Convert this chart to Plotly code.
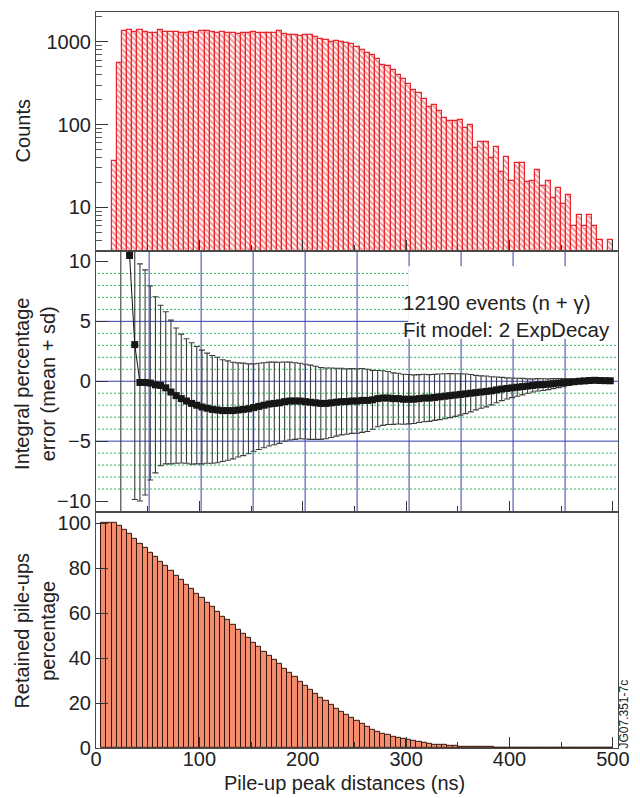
import plotly.graph_objects as go

# ---------------- data ----------------
# Pile-up peak distance histogram (5 ns bins, first bin starts at 15 ns)
COUNT_EDGE0 = 15.0
BIN_NS = 5.0
counts = [36, 559, 1345, 1372, 1320, 1396, 1320, 1283, 1283, 1372,
          1320, 1309, 1297, 1283, 1283, 1320, 1273, 1334, 1334, 1297,
          1262, 1297, 1262, 1283, 1248, 1273, 1283, 1309, 1273, 1283,
          1255, 1262, 1345, 1245, 1220, 1200, 1180, 1190, 1200, 1140,
          1070, 1050, 980, 1010, 990, 960, 930, 870, 783, 730,
          685, 610, 530, 510, 452, 400, 356, 305, 262, 241,
          202, 162, 174, 144, 119, 111, 111, 113, 90, 98,
          52, 62, 62, 39, 53, 27, 41, 21, 34, 34,
          20, 21, 28, 18, 21, 13, 17, 11, 14, 6,
          8, 6, 8, 6, 4, None, 4]
count_x = [COUNT_EDGE0 + BIN_NS * (k + 0.5) for k in range(len(counts))]

# Integral percentage error: mean and standard deviation per distance
err_x = [24.0] + [32.5 + 5 * i for i in range(94)]
err_mean = [18.0, 10.5, 3.06,
            -0.1, -0.1, -0.15, -0.3, -0.35, -0.55, -0.9, -1.2, -1.45, -1.65,
            -1.85, -2.0, -2.15, -2.25, -2.35, -2.4, -2.45, -2.45, -2.45, -2.4,
            -2.35, -2.3, -2.2, -2.1, -2.0, -1.9, -1.85, -1.8, -1.7, -1.65,
            -1.65, -1.65, -1.7, -1.75, -1.8, -1.85, -1.85, -1.8, -1.75, -1.7,
            -1.7, -1.65, -1.65, -1.6, -1.6, -1.55, -1.45, -1.4, -1.4, -1.45,
            -1.45, -1.5, -1.5, -1.5, -1.45, -1.4, -1.4, -1.35, -1.3, -1.25,
            -1.2, -1.15, -1.1, -1.05, -1.0, -0.95, -0.9, -0.85, -0.8, -0.72,
            -0.65, -0.6, -0.55, -0.5, -0.45, -0.4, -0.35, -0.3, -0.28, -0.25,
            -0.2, -0.15, -0.12, -0.08, -0.04, 0.0, 0.03, 0.06, 0.08, 0.06,
            0.05, 0.04]
err_sd = [40.0, 0.0, 12.93,
          9.9, 9.4, 8.1, 7.35, 6.7, 6.35, 6.0, 5.65, 5.38, 5.2,
          5.07, 4.9, 4.75, 4.6, 4.5, 4.4, 4.25, 4.15, 4.03, 3.93,
          3.86, 3.75, 3.65, 3.6, 3.55, 3.5, 3.45, 3.39, 3.31, 3.25,
          3.2, 3.15, 3.12, 3.1, 3.05, 3.0, 2.95, 2.9, 2.83, 2.78,
          2.73, 2.7, 2.69, 2.67, 2.6, 2.46, 2.35, 2.28, 2.21, 2.15,
          2.12, 2.09, 2.06, 2.03, 2.0, 1.98, 1.95, 1.92, 1.9, 1.88,
          1.84, 1.78, 1.73, 1.65, 1.56, 1.44, 1.35, 1.29, 1.17, 1.08,
          0.97, 0.88, 0.82, 0.75, 0.69, 0.6, 0.55, 0.52, 0.49, 0.45,
          0.42, 0.38, 0.34, 0.28, 0.2, 0.15, 0.12, 0.1, 0.08, 0.06,
          0.05, 0.04]

# Retained pile-ups percentage (5 ns bins starting at 5 ns)
RET_EDGE0 = 5.0
retained = [100, 100, 100, 98.9, 97.0, 95.1, 92.9, 90.9, 89.1, 86.9,
            85.0, 82.9, 80.8, 78.7, 76.5, 74.6, 72.7, 70.6, 68.5, 66.6,
            64.5, 62.6, 60.5, 58.5, 56.8, 54.7, 52.7, 50.8, 48.9, 46.8,
            44.9, 42.9, 41.2, 39.1, 37.3, 35.4, 33.4, 31.5, 29.6, 27.8,
            26.0, 24.2, 22.4, 20.8, 19.0, 17.5, 16.1, 14.6, 13.4, 12.2,
            10.8, 9.4, 8.2, 7.1, 6.4, 5.7, 4.9, 4.5, 4.0, 3.6,
            3.1, 2.8, 2.4, 2.0, 1.6, 1.5, 1.2, 1.07, 0.9, 0.75,
            0.6, 0.5, 0.45, 0.42, 0.4, 0.35, 0.3, 0.3, 0.28, 0.25,
            0.22, 0.2, 0.18, 0.15, 0.13, 0.12, 0.1, 0.1, 0.08, 0.07,
            0.06, 0.05, 0.05, 0.04, 0.04, 0.03, 0.03, 0.02, 0.02]
ret_x = [RET_EDGE0 + BIN_NS * (k + 0.5) for k in range(len(retained))]

count_ticks = [10, 100, 1000]
count_minor = [m * 10 ** e for e in range(0, 4) for m in range(2, 10)]
err_ticks = [-10, -5, 0, 5, 10]
err_ticktext = ["\u221210", "\u22125", "0", "5", "10"]
err_major_grid = [-5, 0, 5]
err_minor_grid = [v for v in range(-9, 10) if v % 5 != 0]
# the error panel's vertical grid runs on a slightly stretched 50 ns step
VGRID_START, VGRID_STEP, VGRID_N = 51.4, 50.3, 9

# ---------------- style ----------------
FONT = "Liberation Sans, Arial, Helvetica, sans-serif"
INK = "#222222"
FRAME = "#4a4a4a"
RED = "#e8262c"
SALMON = "#f38d6e"
BLUE = "#3040b0"
GREEN = "#22b857"
X_RANGE = [0, 505]
ERR_RANGE = [-10.9, 10.9]
D_TOP = [0.6757, 1.0]
D_MID = [0.3209, 0.6757]
D_BOT = [0.0, 0.3209]

fig = go.Figure()

# counts histogram
fig.add_trace(go.Bar(
    x=count_x, y=counts, width=BIN_NS, xaxis="x", yaxis="y",
    marker=dict(color="white", line=dict(color=RED, width=1.2),
                pattern=dict(shape="\\", fgcolor=RED, bgcolor="white",
                             size=4, solidity=0.5)),
    showlegend=False))

# integral percentage error (mean +/- sd)
fig.add_trace(go.Scatter(
    x=err_x, y=err_mean, xaxis="x2", yaxis="y2", mode="lines+markers",
    line=dict(color="#111111", width=1),
    marker=dict(symbol="square", size=7, color="#161616"),
    error_y=dict(type="data", array=err_sd, symmetric=True,
                 color="#3c3c3c", thickness=1.1, width=3),
    cliponaxis=True, showlegend=False))

# retained pile-ups percentage
fig.add_trace(go.Bar(
    x=ret_x, y=retained, width=BIN_NS, xaxis="x3", yaxis="y3",
    marker=dict(color=SALMON, line=dict(color="#34170f", width=1)),
    showlegend=False))

tickfont = dict(family=FONT, size=20, color=INK)


def frame_x(anchor, labels=False):
    return dict(range=X_RANGE, anchor=anchor, domain=[0, 1],
                dtick=100, tick0=0, ticks="inside", ticklen=11, tickwidth=1,
                tickcolor="#333333",
                minor=dict(dtick=50, ticks="inside", ticklen=6,
                           tickcolor="#333333", showgrid=False),
                showticklabels=labels, tickfont=tickfont,
                ticklabelstandoff=-7 if labels else 0,
                showgrid=False, zeroline=False,
                showline=True, mirror=True, linecolor=FRAME, linewidth=1.2)


fig.update_layout(
    width=640, height=798, autosize=False,
    margin=dict(l=96, r=14, t=11, b=50),
    paper_bgcolor="white", plot_bgcolor="white",
    font=dict(family=FONT, size=20, color=INK),
    showlegend=False, bargap=0,
    xaxis=frame_x("y"),
    yaxis=dict(type="log", range=[0.478, 3.358], domain=D_TOP, anchor="x",
               tickmode="array", tickvals=count_ticks,
               ticktext=[str(v) for v in count_ticks],
               ticks="inside", ticklen=12, tickcolor="#333333",
               minor=dict(tickmode="array", tickvals=count_minor,
                          ticks="inside", ticklen=6, tickcolor="#555555",
                          showgrid=False),
               tickfont=tickfont, showgrid=False, zeroline=False,
               showline=True, mirror=True, linecolor=FRAME, linewidth=1.2),
    xaxis2=frame_x("y2"),
    yaxis2=dict(range=ERR_RANGE, anchor="x2", domain=D_MID,
                tickmode="array", tickvals=err_ticks, ticktext=err_ticktext,
                ticks="inside", ticklen=12, tickcolor="#333333",
                tickfont=tickfont, showgrid=False, zeroline=False,
                showline=True, mirror=True, linecolor=FRAME, linewidth=1.2),
    xaxis3=frame_x("y3", labels=True),
    yaxis3=dict(range=[0, 105], anchor="x3", domain=D_BOT,
                dtick=20, tick0=0, ticks="inside", ticklen=12,
                tickcolor="#333333", tickfont=tickfont,
                showgrid=False, zeroline=False,
                showline=True, mirror=True, linecolor=FRAME, linewidth=1.2),
)

# grid of the error panel: dotted unit lines, a white box behind the
# fit description, then the solid main grid on top of both
for v in err_minor_grid:
    fig.add_shape(type="line", xref="x2 domain", yref="y2",
                  x0=0.004, x1=1, y0=v, y1=v, layer="below",
                  line=dict(color=GREEN, width=1, dash="2px,2px"))
fig.add_shape(type="rect", xref="x2", yref="y2", x0=302, x1=505,
              y0=3.55, y1=9.6, layer="below",
              fillcolor="white", line=dict(width=0))
for v in err_major_grid:
    fig.add_shape(type="line", xref="x2 domain", yref="y2",
                  x0=0, x1=1, y0=v, y1=v, layer="below",
                  line=dict(color=BLUE, width=1))
for i in range(VGRID_N):
    xg = VGRID_START + VGRID_STEP * i
    fig.add_shape(type="line", xref="x2", yref="y2 domain",
                  x0=xg, x1=xg, y0=0, y1=1, layer="below",
                  line=dict(color=BLUE, width=1))

ann_font = dict(family=FONT, size=20, color=INK)
annotations = [
    dict(text="Counts", x=-0.1396, y=0.8379, textangle=-90),
    dict(text="Integral percentage<br>error (mean + sd)", x=-0.116, y=0.4953,
         textangle=-90),
    dict(text="Retained pile-ups<br>percentage", x=-0.116, y=0.1601,
         textangle=-90),
    dict(text="Pile-up peak distances (ns)", x=0.4755, y=-0.0475),
]
for a in annotations:
    fig.add_annotation(xref="paper", yref="paper", showarrow=False,
                       font=ann_font, xanchor="center", yanchor="middle", **a)

# fit description inside the error panel
for text, yp in (("12190 events (n + \u03b3)", 0.6052),
                 ("Fit model: 2 ExpDecay", 0.5685)):
    fig.add_annotation(text=text, xref="paper", yref="paper", x=0.5849, y=yp,
                       xanchor="left", yanchor="middle", showarrow=False,
                       font=dict(family=FONT, size=20.5, color=INK))

fig.add_annotation(text="JG07.351-7c", xref="paper", yref="paper",
                   x=1.0123, y=0.0461, textangle=-90, showarrow=False,
                   font=dict(family=FONT, size=12, color=INK),
                   xanchor="center", yanchor="middle")

fig.write_html("out.html")
